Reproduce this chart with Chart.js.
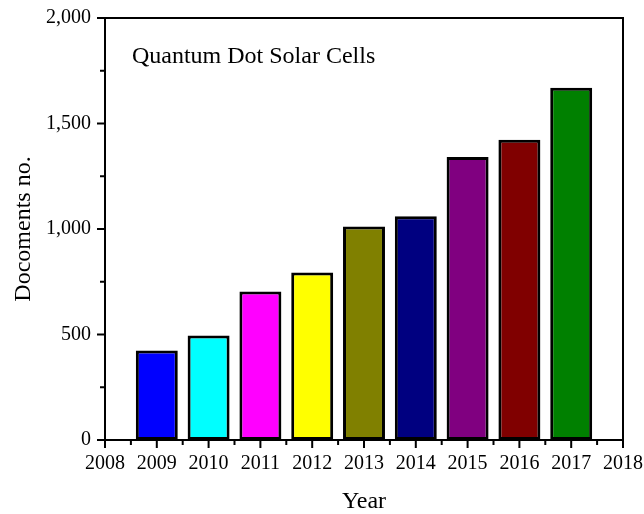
<!DOCTYPE html>
<html>
<head>
<meta charset="utf-8">
<script src="https://cdn.jsdelivr.net/npm/chart.js@4/dist/chart.umd.min.js"></script>
<style>
  html, body { margin: 0; padding: 0; background: #fff; }
  #wrap { width: 644px; height: 514px; }
</style>
</head>
<body>
<div id="wrap"><canvas id="grafik"></canvas></div>
<script>
const ctx = document.getElementById('grafik').getContext('2d');

// data
const years = [2009, 2010, 2011, 2012, 2013, 2014, 2015, 2016, 2017];
const documents = [424, 495, 704, 794, 1012, 1060, 1341, 1423, 1669];
const barColors = ['#0000FF', '#00FFFF', '#FF00FF', '#FFFF00', '#808000',
                   '#000080', '#800080', '#800000', '#008000'];

const xRange = [2008, 2018];
const yRange = [0, 2000];
const noteText = 'Quantum Dot Solar Cells';
const noteAt = [2008.52, 1815];

const serif = "'Liberation Serif', 'Times New Roman', serif";

// tick marks (major + minor) and frame, drawn from the scales
const frameTicks = {
    id: 'frameTicks',
    afterDraw(chart) {
        const { ctx, chartArea: a, scales: { x, y } } = chart;
        ctx.save();
        ctx.strokeStyle = '#000';
        ctx.lineWidth = 2;
        ctx.beginPath();
        ctx.moveTo(a.left, a.top);
        ctx.lineTo(a.right, a.top);
        ctx.lineTo(a.right, a.bottom);
        ctx.stroke();

        ctx.beginPath();
        for (let v = xRange[0]; v <= xRange[1]; v += 0.5) {
            const px = x.getPixelForValue(v);
            const len = Number.isInteger(v) ? 8 : 5;
            ctx.moveTo(px, a.bottom);
            ctx.lineTo(px, a.bottom + len);
        }
        for (let v = yRange[0]; v <= yRange[1]; v += 250) {
            const py = y.getPixelForValue(v);
            const len = v % 500 === 0 ? 8 : 5;
            ctx.moveTo(a.left, py);
            ctx.lineTo(a.left - len, py);
        }
        ctx.stroke();

        ctx.fillStyle = '#000';
        ctx.font = '24px ' + serif;
        ctx.textBaseline = 'middle';
        ctx.textAlign = 'left';
        ctx.fillText(noteText, x.getPixelForValue(noteAt[0]), y.getPixelForValue(noteAt[1]));
        ctx.restore();
    }
};

new Chart(ctx, {
    type: 'bar',
    data: {
        datasets: [{
            data: years.map((yr, i) => ({ x: yr, y: documents[i] })),
            backgroundColor: barColors,
            borderColor: '#000',
            borderWidth: 3,
            borderSkipped: false,
            barPercentage: 0.81,
            categoryPercentage: 1.0
        }]
    },
    options: {
        responsive: true,
        maintainAspectRatio: false,
        animation: false,
        layout: { padding: { top: 18, right: 0, left: 0, bottom: 0 } },
        plugins: {
            legend: { display: false },
            tooltip: { enabled: false }
        },
        scales: {
            x: {
                type: 'linear',
                offset: false,
                min: xRange[0],
                max: xRange[1],
                afterFit(scale) { scale.height = 74; scale.paddingRight = 21; scale.paddingLeft = 0; },
                grid: { display: false, offset: false },
                border: { display: true, color: '#000', width: 2 },
                ticks: {
                    stepSize: 1,
                    padding: 4,
                    color: '#000',
                    font: { family: serif, size: 20 },
                    callback: v => String(v)
                },
                title: {
                    display: true,
                    text: 'Year',
                    color: '#000',
                    font: { family: serif, size: 24, lineHeight: 1 },
                    padding: { top: 0, bottom: 0 }
                }
            },
            y: {
                min: yRange[0],
                max: yRange[1],
                afterFit(scale) { scale.width = 105; scale.paddingTop = 0; scale.paddingBottom = 0; },
                grid: { display: false },
                border: { display: true, color: '#000', width: 2 },
                ticks: {
                    stepSize: 500,
                    padding: 6,
                    color: '#000',
                    font: { family: serif, size: 20 }
                },
                title: {
                    display: true,
                    text: 'Docoments no.',
                    color: '#000',
                    font: { family: serif, size: 24, lineHeight: 1 },
                    padding: { top: 12, bottom: 0 }
                }
            }
        }
    },
    plugins: [frameTicks]
});
</script>
</body>
</html>
